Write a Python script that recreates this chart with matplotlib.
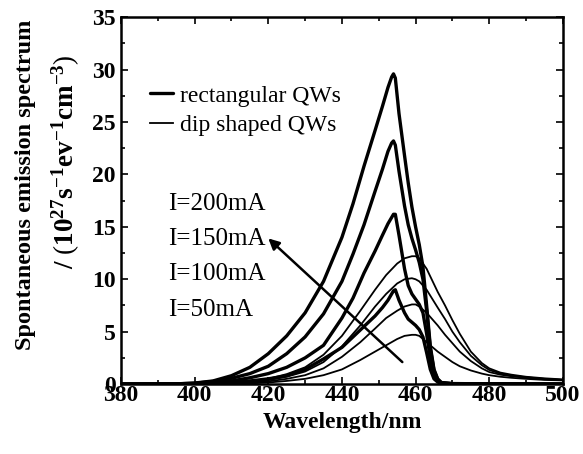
import matplotlib
matplotlib.use("Agg")
import matplotlib.pyplot as plt
from matplotlib.ticker import MultipleLocator

plt.rcParams['font.family'] = ['Liberation Serif', 'DejaVu Serif']
plt.rcParams['mathtext.fontset'] = 'custom'
plt.rcParams['mathtext.rm'] = 'Liberation Serif'
plt.rcParams['mathtext.bf'] = 'Liberation Serif:bold'

# =================================================
# DATA
# =================================================
# rectangular QWs (thick lines)
wl_rect = [380, 395, 400, 405, 410, 415, 420, 425, 430, 435, 440, 443, 446, 449, 451,
           452.5, 453.5, 454, 454.5, 455.5, 457, 458, 459, 460, 461, 462, 463, 464,
           465, 466, 467, 470, 480, 500]
rect_200 = [0, 0.02, 0.1, 0.3, 0.8, 1.6, 2.9, 4.6, 6.8, 9.8, 14.0, 17.2, 20.8, 24.2, 26.5,
            28.3, 29.3, 29.6, 29.2, 25.8, 21.8, 19.2, 16.9, 15.0, 13.3, 11.2, 7.5, 3.6,
            1.4, 0.5, 0.15, 0.05, 0.02, 0]
rect_150 = [0, 0.02, 0.08, 0.25, 0.55, 1.0, 1.7, 2.9, 4.5, 6.7, 9.8, 12.4, 15.2, 18.4, 20.5,
            22.2, 23.0, 23.2, 22.8, 20.3, 17.0, 15.2, 13.9, 12.8, 11.6, 10.0, 7.0, 3.4,
            1.3, 0.45, 0.12, 0.04, 0.02, 0]
rect_100 = [0, 0.01, 0.04, 0.12, 0.3, 0.6, 1.0, 1.6, 2.5, 3.7, 6.3, 8.2, 10.6, 12.7, 14.2,
            15.3, 15.9, 16.2, 16.2, 14.2, 11.0, 9.4, 8.6, 8.1, 7.6, 6.8, 4.8, 2.4,
            1.0, 0.35, 0.1, 0.03, 0.01, 0]
rect_50 = [0, 0, 0.02, 0.06, 0.15, 0.3, 0.5, 0.8, 1.4, 2.4, 3.5, 4.5, 5.5, 6.5, 7.3,
           8.0, 8.6, 8.9, 9.0, 8.0, 6.8, 6.2, 5.9, 5.6, 5.2, 4.5, 3.0, 1.4,
           0.5, 0.2, 0.05, 0.02, 0.01, 0]

# dip shaped QWs (thin lines)
wl_dip = [380, 400, 410, 415, 420, 425, 430, 435, 440, 445, 449, 452, 455, 457, 459, 460,
          461, 463, 466, 468, 470, 472, 475, 478, 480, 483, 486, 490, 495, 500]
dip_200 = [0, 0.02, 0.1, 0.25, 0.5, 0.95, 1.6, 2.8, 4.6, 7.0, 9.0, 10.4, 11.5, 12.0, 12.2, 12.2,
           12.0, 11.0, 8.8, 7.5, 6.1, 4.8, 3.1, 2.0, 1.5, 1.1, 0.9, 0.7, 0.55, 0.45]
dip_150 = [0, 0.01, 0.07, 0.18, 0.38, 0.7, 1.2, 2.1, 3.6, 5.6, 7.4, 8.6, 9.6, 10.0, 10.1, 10.0,
           9.8, 9.0, 7.3, 6.2, 5.0, 4.0, 2.7, 1.8, 1.35, 1.0, 0.8, 0.65, 0.5, 0.4]
dip_100 = [0, 0.01, 0.05, 0.12, 0.26, 0.5, 0.85, 1.5, 2.6, 4.0, 5.3, 6.3, 7.0, 7.4, 7.6, 7.6,
           7.4, 6.8, 5.6, 4.7, 3.9, 3.1, 2.2, 1.5, 1.15, 0.9, 0.75, 0.6, 0.45, 0.38]
dip_50 = [0, 0, 0.03, 0.07, 0.15, 0.3, 0.5, 0.85, 1.4, 2.3, 3.1, 3.7, 4.3, 4.6, 4.7, 4.7,
          4.6, 4.0, 3.1, 2.6, 2.1, 1.7, 1.3, 1.0, 0.85, 0.7, 0.6, 0.5, 0.4, 0.35]

currents = ["I=200mA", "I=150mA", "I=100mA", "I=50mA"]
current_y = [17.2, 13.8, 10.5, 7.1]

# =================================================
# PLOT
# =================================================
fig = plt.figure(figsize=(5.83, 4.54), dpi=100)
ax = fig.add_axes([0.2075, 0.154, 0.758, 0.808])

for i, ys in enumerate([rect_200, rect_150, rect_100, rect_50]):
    ax.plot(wl_rect, ys, color="black", lw=2.4, solid_capstyle="round",
            label="rectangular QWs" if i == 0 else None)
for i, ys in enumerate([dip_200, dip_150, dip_100, dip_50]):
    ax.plot(wl_dip, ys, color="black", lw=1.3,
            label="dip shaped QWs" if i == 0 else None)

ax.set_xlim(380, 500)
ax.set_ylim(0, 35)
ax.xaxis.set_major_locator(MultipleLocator(20))
ax.xaxis.set_minor_locator(MultipleLocator(10))
ax.yaxis.set_major_locator(MultipleLocator(5))
ax.yaxis.set_minor_locator(MultipleLocator(2.5))
ax.tick_params(which="both", direction="in", top=True, right=True, width=1.2)
ax.tick_params(which="major", length=5, labelsize=17)
ax.tick_params(axis="x", which="major", pad=1)
ax.tick_params(axis="y", which="major", pad=4)
ax.tick_params(which="minor", length=3)
for lab in ax.get_xticklabels() + ax.get_yticklabels():
    lab.set_fontweight("bold")
for sp in ax.spines.values():
    sp.set_linewidth(1.8)

ax.set_xlabel("Wavelength/nm", fontsize=17, fontweight="bold", labelpad=4)

# two-line y label, placed as in the reference
fig.text(0.043, 0.593, "Spontaneous emission spectrum", rotation=90,
         fontsize=17.5, fontweight="bold", ha="center", va="center")
fig.text(0.113, 0.645, r"/ $(\mathbf{10^{27}s^{-1}ev^{-1}cm^{-3}})$", rotation=90,
         fontsize=19.5, fontweight="bold", ha="center", va="center")

ax.legend(loc="upper left", bbox_to_anchor=(0.066, 0.815), frameon=False,
          fontsize=17, handlelength=0.95, handletextpad=0.3,
          labelspacing=0.33, borderpad=0, borderaxespad=0)

for txt, yy in zip(currents, current_y):
    ax.text(392.8, yy, txt, fontsize=18, va="center", ha="left")

ax.annotate("", xy=(420, 13.9), xytext=(456.4, 2.1),
            arrowprops=dict(arrowstyle="-|>", lw=1.8, color="black",
                            mutation_scale=16, shrinkA=0, shrinkB=0))

fig.savefig("out.png", dpi=100)
